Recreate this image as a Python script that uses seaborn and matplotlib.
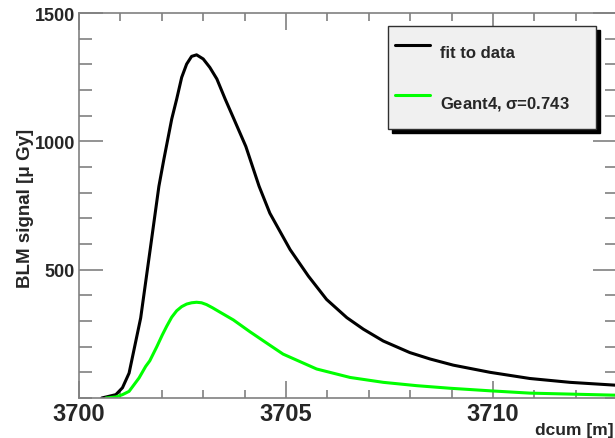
import numpy as np
import pandas as pd
import matplotlib
matplotlib.use("Agg")
import matplotlib.pyplot as plt
from matplotlib.ticker import MultipleLocator, FixedLocator
import seaborn as sns

# values
dcum_fit = [3700.55, 3700.89, 3701.05, 3701.21, 3701.49, 3701.73, 3701.93, 3702.05,
            3702.24, 3702.36, 3702.48, 3702.60, 3702.72, 3702.84, 3703.00, 3703.16,
            3703.33, 3703.53, 3703.72, 3704.03, 3704.35, 3704.61, 3705.10, 3705.54,
            3705.98, 3706.47, 3706.87, 3707.35, 3707.99, 3708.48, 3709.04, 3709.93,
            3710.89, 3711.86, 3712.95]
signal_fit = [0, 13, 40, 97, 312, 591, 825, 930,
              1087, 1165, 1249, 1301, 1331, 1337, 1321, 1288,
              1243, 1165, 1095, 980, 825, 720, 578, 475,
              384, 313, 268, 222, 177, 152, 128, 100,
              76, 61, 50]

dcum_g4 = [3700.65, 3700.89, 3701.05, 3701.21, 3701.45, 3701.61, 3701.71, 3701.88,
           3702.01, 3702.12, 3702.24, 3702.36, 3702.48, 3702.60, 3702.72, 3702.84,
           3702.96, 3703.08, 3703.22, 3703.41, 3703.73, 3704.13, 3704.57, 3704.93,
           3705.74, 3706.55, 3707.35, 3708.16, 3708.96, 3709.93, 3710.89, 3712.95]
signal_g4 = [0, 4, 13, 26, 78, 123, 145, 200,
             245, 280, 315, 340, 356, 366, 371, 373,
             371, 364, 352, 334, 304, 258, 210, 171,
             113, 80, 61, 48, 38, 28, 19, 11]

labels = ["fit to data", "Geant4, $\\sigma$=0.743"]
colors = {"fit": "black", "g4": "#00ff00", "frame": "#808080"}

sns.set_style("ticks")
plt.rcParams["font.family"] = ["Liberation Sans", "DejaVu Sans"]
plt.rcParams["font.weight"] = "bold"
plt.rcParams["mathtext.fontset"] = "custom"
plt.rcParams["mathtext.rm"] = "Liberation Sans:bold"
plt.rcParams["mathtext.it"] = "Liberation Sans:bold"

fig = plt.figure(figsize=(6.15, 4.39), dpi=100)
# axis frame: 3700 at x=79px, 1 m = 41.4 px, y from 399px (0) to 14px (1500)
ax = fig.add_axes([79 / 615, 1 - 399 / 439, 13 * 41.4 / 615, 385 / 439])

df_fit = pd.DataFrame({"dcum": dcum_fit, "signal": signal_fit})
df_g4 = pd.DataFrame({"dcum": dcum_g4, "signal": signal_g4})
sns.lineplot(data=df_fit, x="dcum", y="signal", color=colors["fit"], lw=2.2,
             ax=ax, label=labels[0], sort=False)
sns.lineplot(data=df_g4, x="dcum", y="signal", color=colors["g4"], lw=2.2,
             ax=ax, label=labels[1], sort=False)
for ln in ax.get_lines():
    ln.set_solid_joinstyle("round")

ax.set_xlim(3700, 3713)
ax.set_ylim(0, 1500)
ax.set_xlabel("")
ax.set_ylabel("")

ax.xaxis.set_major_locator(FixedLocator([3700, 3705, 3710]))
ax.xaxis.set_minor_locator(MultipleLocator(1))
ax.yaxis.set_major_locator(FixedLocator([500, 1000, 1500]))
ax.yaxis.set_minor_locator(MultipleLocator(100))

for s in ax.spines.values():
    s.set_color(colors["frame"])
    s.set_linewidth(1.2)
ax.tick_params(which="both", direction="in", top=True, right=True, color=colors["frame"], width=1.2)
ax.tick_params(axis="x", which="major", length=12, labelsize=17, pad=3)
ax.tick_params(axis="x", which="minor", length=6)
ax.tick_params(axis="y", which="major", length=17, labelsize=13, pad=3)
ax.tick_params(axis="y", which="minor", length=9)
for lab in ax.get_xticklabels() + ax.get_yticklabels():
    lab.set_fontweight("bold")

fig.text(614 / 615, 1 - 431 / 439, "dcum [m]", ha="right", va="center",
         fontsize=12.5, fontweight="bold")
fig.text(26 / 615, 1 - 129 / 439, "BLM signal [\u03bc Gy]", rotation=90,
         ha="center", va="top", fontsize=13.5, fontweight="bold")

leg = ax.legend(loc="upper left", bbox_to_anchor=(388 / 615, 1 - 127 / 439, 208 / 615, 100 / 439),
                bbox_transform=fig.transFigure, mode="expand", borderaxespad=0,
                fancybox=False, frameon=True, facecolor="#f0f0f0", edgecolor="#303030",
                framealpha=1, shadow={"ox": 3, "oy": -3, "color": "black", "alpha": 1},
                prop={"size": 12, "weight": "bold"}, borderpad=0.42, handlelength=2.1,
                handleheight=3.17, labelspacing=0.72, handletextpad=0.6)
leg.get_frame().set_linewidth(1.0)

fig.savefig("out.png", dpi=100)
